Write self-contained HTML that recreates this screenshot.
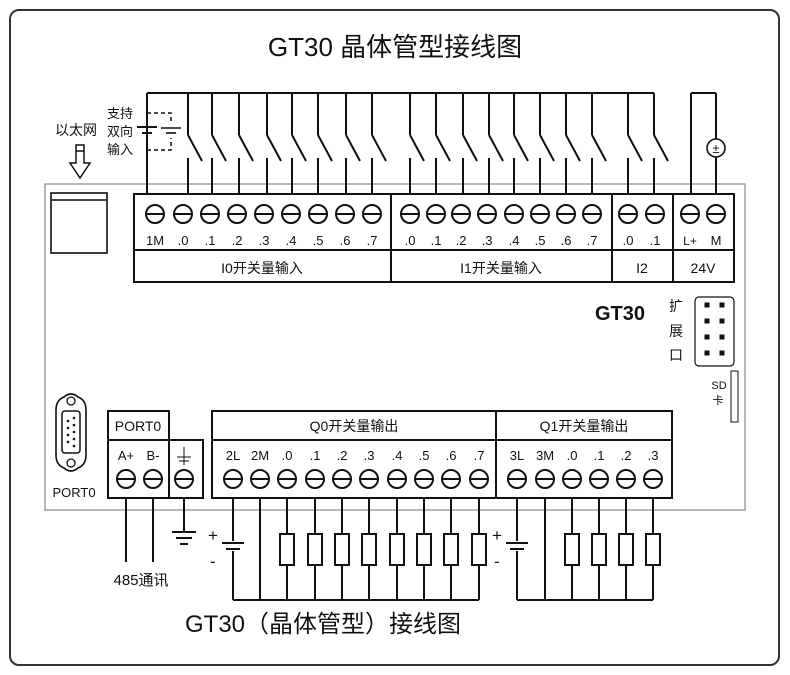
<!DOCTYPE html>
<html><head><meta charset="utf-8"><style>
html,body{margin:0;padding:0;background:#fff;}
svg{display:block;}
text{font-family:"Liberation Sans","Noto Sans CJK SC",sans-serif;fill:#111;}
</style></head><body>
<svg id="s" width="790" height="675" viewBox="0 0 790 675" xmlns="http://www.w3.org/2000/svg">
<rect x="10" y="10" width="769" height="655" rx="9" fill="none" stroke="#333" stroke-width="2"/>
<text x="395" y="56" font-size="26" text-anchor="middle">GT30 晶体管型接线图</text>
<rect x="45" y="184" width="700" height="326" fill="none" stroke="#888" stroke-width="1.2"/>
<g id="g" stroke="#111" stroke-width="2" fill="none"></g>
<g font-size="13" text-anchor="middle">
<text x="155" y="245">1M</text><text x="183" y="245">.0</text><text x="210" y="245">.1</text><text x="237" y="245">.2</text><text x="264" y="245">.3</text><text x="291" y="245">.4</text><text x="318" y="245">.5</text><text x="345" y="245">.6</text><text x="372" y="245">.7</text>
<text x="410" y="245">.0</text><text x="436" y="245">.1</text><text x="461" y="245">.2</text><text x="487" y="245">.3</text><text x="514" y="245">.4</text><text x="540" y="245">.5</text><text x="566" y="245">.6</text><text x="592" y="245">.7</text>
<text x="628" y="245">.0</text><text x="655" y="245">.1</text><text x="690" y="245" font-size="12">L+</text><text x="716" y="245">M</text>
<text x="233" y="460">2L</text><text x="260" y="460">2M</text><text x="287" y="460">.0</text><text x="315" y="460">.1</text><text x="342" y="460">.2</text><text x="369" y="460">.3</text><text x="397" y="460">.4</text><text x="424" y="460">.5</text><text x="451" y="460">.6</text><text x="479" y="460">.7</text>
<text x="517" y="460">3L</text><text x="545" y="460">3M</text><text x="572" y="460">.0</text><text x="599" y="460">.1</text><text x="626" y="460">.2</text><text x="653" y="460">.3</text>
<text x="126" y="460">A+</text><text x="153" y="460">B-</text>
</g>
<g font-size="14" text-anchor="middle">
<text x="262" y="273">I0开关量输入</text><text x="501" y="273">I1开关量输入</text><text x="642" y="273">I2</text><text x="703" y="273">24V</text>
<text x="354" y="431">Q0开关量输出</text><text x="584" y="431">Q1开关量输出</text><text x="138" y="431">PORT0</text>
</g>
<text x="76" y="135" font-size="14" text-anchor="middle">以太网</text>
<g font-size="13"><text x="107" y="118">支持</text><text x="107" y="136">双向</text><text x="107" y="154">输入</text></g>
<text x="620" y="320" font-size="20" font-weight="bold" text-anchor="middle">GT30</text>
<g font-size="14" text-anchor="middle"><text x="676" y="311">扩</text><text x="676" y="336">展</text><text x="676" y="360">口</text></g>
<g font-size="11" text-anchor="middle"><text x="719" y="389">SD</text><text x="718" y="404">卡</text></g>
<text x="74" y="497" font-size="13" text-anchor="middle">PORT0</text>
<text x="141" y="585" font-size="15" text-anchor="middle">485通讯</text>
<text x="185" y="632" font-size="24">GT30（晶体管型）接线图</text>
<g font-size="17"><text x="208" y="541">+</text><text x="210" y="567">-</text><text x="492" y="541">+</text><text x="494" y="567">-</text></g>
<circle cx="716" cy="148" r="9" fill="#fff" stroke="#111" stroke-width="1.6"/>
<text x="716" y="153" font-size="13" text-anchor="middle">±</text>
</svg>
<script>
(function(){
var g=document.getElementById('g'),NS='http://www.w3.org/2000/svg';
function el(t,a){var e=document.createElementNS(NS,t);for(var k in a)e.setAttribute(k,a[k]);g.appendChild(e);return e;}
function L(x1,y1,x2,y2,w){return el('line',{x1:x1,y1:y1,x2:x2,y2:y2,'stroke-width':w||2});}
function R(x,y,w,h,a){a=a||{};a.x=x;a.y=y;a.width=w;a.height=h;return el('rect',a);}
function screw(x,y){el('circle',{cx:x,cy:y,r:9,fill:'#fff'});L(x-9,y,x+9,y);}
R(134,194,600,88);L(134,250,734,250);L(391,194,391,282);L(612,194,612,282);L(673,194,673,282);
var tops=[155,183,210,237,264,291,318,345,372,410,436,461,487,514,540,566,592,628,655,690,716];
tops.forEach(function(x){screw(x,214);});
var sw=[188,212,239,267,292,318,346,372,410,436,463,489,514,540,566,592,628,654];
L(147,93,654,93);L(147,93,147,194);
sw.forEach(function(x){L(x,93,x,135);L(x,135,x+14,161);L(x,158,x,194);});
L(137,127,157,127);L(142,133,152,133);
el('path',{d:'M147 113 H171 V124 M147 150 H171 V138','stroke-dasharray':'4 3','stroke-width':1.5});
L(161,128,181,128,1.6);L(166,133,176,133,1.6);
L(691,93,716,93);L(691,93,691,194);L(716,93,716,139);L(716,157,716,194);
R(51,193,56,60,{'stroke-width':1.6});L(51,200,107,200,1.6);
R(76,145,8,6,{'stroke-width':1.5});
el('path',{d:'M76 151 V163 H70 L80 178 L90 163 H84 V151','stroke-width':1.5});
R(695,297,39,69,{rx:4,'stroke-width':1.2});
[305,321,337,353].forEach(function(y){[707,722].forEach(function(x){R(x-2.5,y-2.5,5,5,{fill:'#111',stroke:'none'});});});
R(731,371,7,51,{'stroke-width':1});
el('path',{d:'M64 397 Q71 391 78 397 Q86 400 86 410 V455 Q86 465 78 468 Q71 474 64 468 Q56 465 56 455 V410 Q56 400 64 397 Z','stroke-width':1.6});
R(62,411,18,42,{rx:3,'stroke-width':1.5});
el('circle',{cx:71,cy:401,r:4,'stroke-width':1.3});el('circle',{cx:71,cy:463,r:4,'stroke-width':1.3});
[418,425,432,439,446].forEach(function(y){el('circle',{cx:74,cy:y,r:1.3,fill:'#111',stroke:'none'});});
[421,428,435,442].forEach(function(y){el('circle',{cx:68,cy:y,r:1.3,fill:'#111',stroke:'none'});});
R(108,411,61,87);L(108,440,203,440);R(169,440,34,58);
screw(126,479);screw(153,479);screw(184,479);
L(184,447,184,465,1);L(177,457,191,457,1);L(179,461,189,461,1);
L(126,498,126,562);L(153,498,153,562);
L(184,498,184,532);L(172,532,196,532);L(176,538,192,538);L(180,544,188,544);
R(212,411,460,87);L(212,440,672,440);L(496,411,496,498);
var q0=[233,260,287,315,342,369,397,424,451,479],q1=[517,545,572,599,626,653];
q0.concat(q1).forEach(function(x){screw(x,479);});
function outs(arr){var b=arr[0];
 L(b,498,b,541);L(b-11,543,b+11,543);L(b-7,549,b+7,549);L(b,551,b,600);
 L(arr[1],498,arr[1],600);
 arr.slice(2).forEach(function(x){L(x,498,x,534);R(x-7,534,14,31,{fill:'#fff'});L(x,565,x,600);});
 L(b,600,arr[arr.length-1],600);}
outs(q0);outs(q1);
})();
</script>
</body></html>
